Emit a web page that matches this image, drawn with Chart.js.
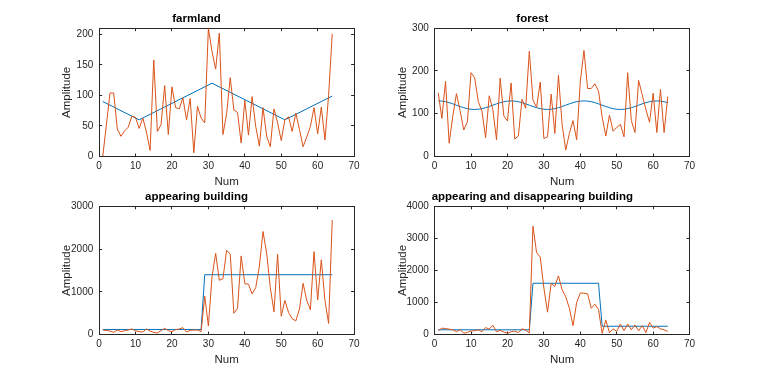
<!DOCTYPE html>
<html>
<head>
<meta charset="utf-8">
<script src="https://cdn.jsdelivr.net/npm/chart.js@4.4.0/dist/chart.umd.min.js"></script>
<style>
  html, body { margin: 0; padding: 0; background: #fff; }
  body { width: 762px; height: 376px; position: relative; overflow: hidden; }
  canvas { position: absolute; }
</style>
</head>
<body>
<canvas id="farmland"></canvas>
<canvas id="forest"></canvas>
<canvas id="appearing"></canvas>
<canvas id="appdis"></canvas>
<script>
// x axis: sample index 1..64
const num = Array.from({ length: 64 }, (_, i) => i + 1)
const xTicks = [0, 10, 20, 30, 40, 50, 60, 70]

// farmland
const farmland = [0, 52, 104, 104, 45, 33, 42, 48, 66, 64,
  46, 63, 40, 10, 158, 41, 52, 116, 36, 114,
  80, 78, 96, 60, 95, 6, 82, 63, 55, 210,
  172, 143, 202, 36, 70, 129, 76, 72, 22, 92,
  35, 98, 49, 17, 80, 33, 16, 78, 55, 26,
  60, 65, 41, 71, 44, 16, 32, 49, 80, 37,
  81, 27, 100, 201]
const farmTrendX = [1, 11, 31, 51, 64]
const farmTrendY = [90, 60, 120, 60, 99]
const farmTicks = [0, 50, 100, 150, 200]

// forest
const forest = [149, 89, 176, 31, 95, 147, 107, 62, 81, 196,
  184, 128, 106, 44, 142, 109, 39, 183, 95, 83,
  172, 41, 48, 134, 113, 246, 132, 115, 174, 42,
  46, 146, 54, 190, 75, 15, 54, 84, 39, 175,
  248, 159, 159, 170, 153, 92, 48, 97, 59, 68,
  75, 46, 196, 84, 56, 178, 144, 110, 80, 148,
  56, 157, 56, 140]
const forestTrend = [130, 129.5, 128.1, 125.9, 123.1, 120, 116.9, 114.1, 111.9, 110.5,
  110, 110.5, 111.9, 114.1, 116.9, 120, 123.1, 125.9, 128.1, 129.5,
  130, 129.5, 128.1, 125.9, 123.1, 120, 116.9, 114.1, 111.9, 110.5,
  110, 110.5, 111.9, 114.1, 116.9, 120, 123.1, 125.9, 128.1, 129.5,
  130, 129.5, 128.1, 125.9, 123.1, 120, 116.9, 114.1, 111.9, 110.5,
  110, 110.5, 111.9, 114.1, 116.9, 120, 123.1, 125.9, 128.1, 129.5,
  130, 129.5, 128.1, 125.9]
const forestTicks = [0, 100, 200, 300]

// appearing building
const appearing = [108, 95, 84, 53, 108, 69, 92, 108, 131, 90,
  69, 61, 131, 80, 53, 37, 92, 147, 92, 69,
  115, 131, 162, 61, 100, 105, 108, 69, 900, 200,
  1350, 1900, 1270, 1310, 1970, 1880, 500, 610, 1840, 1190,
  1180, 950, 1100, 1600, 2410, 1900, 1100, 530, 1880, 430,
  800, 520, 370, 320, 600, 1200, 800, 580, 1940, 810,
  1750, 800, 260, 2680]
const buildTrendX = [1, 28, 29, 64]
const buildTrendY = [120, 120, 1400, 1400]
const buildTicks = [0, 1000, 2000, 3000]

// appearing and disappearing building
const appdis = [120, 200, 190, 170, 150, 90, 160, 40, 70, 110,
  120, 150, 90, 220, 170, 290, 90, 130, 80, 40,
  90, 110, 60, 180, 140, 50, 3380, 2550, 2420, 1450,
  700, 1600, 1500, 1830, 1400, 1180, 820, 280, 1000, 1300,
  1290, 1270, 820, 950, 780, 40, 450, 60, 180, 100,
  330, 120, 330, 150, 300, 120, 280, 60, 380, 200,
  250, 180, 150, 100]
const adTrendX = [1, 26, 27, 45, 46, 64]
const adTrendY = [150, 150, 1600, 1600, 260, 260]
const adTicks = [0, 1000, 2000, 3000, 4000]

const FONT = '"Liberation Sans", Arial, Helvetica, sans-serif'
const AXIS = '#262626'
const BLUE = '#0072BD'
const ORANGE = '#D95319'
const TICK_LEN = -3

// MATLAB default 2x2 subplot boxes in the 762x376 figure
const LEFT_COL = { left: 99.1, right: 354.1 }
const RIGHT_COL = { left: 434.6, right: 689.6 }
const TOP_ROW = { top: 28.2, bottom: 156.5 }
const BOT_ROW = { top: 206.3, bottom: 334.6 }

const pts = (xs, ys) => xs.map((x, i) => ({ x: x, y: ys[i] }))

const makePanel = (id, col, row, title, series, trend, yMax, yTicks) => {
  const canvas = document.getElementById(id)
  const cl = Math.round(col.left - 60)
  const ct = Math.round(row.top - 24)
  const cw = 330
  const ch = 190
  canvas.width = cw
  canvas.height = ch
  canvas.style.left = cl + 'px'
  canvas.style.top = ct + 'px'

  const areaLeft = col.left - cl
  const areaTop = row.top - ct
  const areaRight = col.right - cl
  const areaBottom = row.bottom - ct

  const titleLH = 11.5 * 1.2
  const titleTop = (row.top - 9.2 - ct) - titleLH / 2
  const titleBottom = areaTop - titleLH - titleTop

  const tickFont = { family: FONT, size: 10, lineHeight: 1.2 }
  const labelFont = { family: FONT, size: 11.5, lineHeight: 1.2 }
  const grid = { drawOnChartArea: false, tickLength: TICK_LEN, color: AXIS, lineWidth: 1 }
  const border = { display: true, color: AXIS, width: 1 }
  const setTicks = (list) => (s) => { s.ticks = list.map(v => ({ value: v })) }
  const plain = (v) => String(v)

  return new Chart(canvas, {
    type: 'line',
    data: {
      datasets: [
        {
          data: pts(num, series),
          borderColor: ORANGE,
          borderWidth: 1,
          pointRadius: 0,
          tension: 0
        },
        {
          data: pts(trend.x, trend.y),
          borderColor: BLUE,
          borderWidth: 1,
          pointRadius: 0,
          tension: 0
        }
      ]
    },
    options: {
      responsive: false,
      animation: false,
      devicePixelRatio: 1,
      events: [],
      layout: { padding: { left: 0, top: 0, right: cw - areaRight, bottom: 0 } },
      plugins: {
        legend: { display: false },
        tooltip: { enabled: false },
        title: {
          display: true,
          text: title,
          color: '#000',
          font: { family: FONT, size: 11.5, weight: 'bold', lineHeight: 1.2 },
          padding: { top: titleTop, bottom: titleBottom }
        }
      },
      scales: {
        x: {
          type: 'linear',
          position: 'bottom',
          min: 0,
          max: 70,
          afterBuildTicks: setTicks(xTicks),
          afterFit: (s) => { s.height = ch - areaBottom },
          grid: grid,
          border: border,
          ticks: { padding: 6.5, color: AXIS, font: tickFont, maxRotation: 0, autoSkip: false, callback: plain },
          title: { display: true, text: 'Num', color: AXIS, font: labelFont, padding: { top: 0, bottom: 5.6 } }
        },
        x2: {
          type: 'linear',
          position: 'top',
          min: 0,
          max: 70,
          afterBuildTicks: setTicks(xTicks),
          afterFit: (s) => { s.height = 0 },
          grid: grid,
          border: border,
          ticks: { display: false }
        },
        y: {
          type: 'linear',
          position: 'left',
          min: 0,
          max: yMax,
          afterBuildTicks: setTicks(yTicks),
          afterFit: (s) => { s.width = areaLeft },
          grid: grid,
          border: border,
          ticks: { padding: 8.8, color: AXIS, font: tickFont, autoSkip: false, callback: plain },
          title: { display: true, text: 'Amplitude', color: AXIS, font: labelFont, padding: { top: 21.1, bottom: 0 } }
        },
        y2: {
          type: 'linear',
          position: 'right',
          min: 0,
          max: yMax,
          afterBuildTicks: setTicks(yTicks),
          afterFit: (s) => { s.width = 0 },
          grid: grid,
          border: border,
          ticks: { display: false }
        }
      }
    }
  })
}

makePanel('farmland', LEFT_COL, TOP_ROW, 'farmland', farmland,
  { x: farmTrendX, y: farmTrendY }, 210, farmTicks)
makePanel('forest', RIGHT_COL, TOP_ROW, 'forest', forest,
  { x: num, y: forestTrend }, 300, forestTicks)
makePanel('appearing', LEFT_COL, BOT_ROW, 'appearing building', appearing,
  { x: buildTrendX, y: buildTrendY }, 3000, buildTicks)
makePanel('appdis', RIGHT_COL, BOT_ROW, 'appearing and disappearing building', appdis,
  { x: adTrendX, y: adTrendY }, 4000, adTicks)
</script>
</body>
</html>
